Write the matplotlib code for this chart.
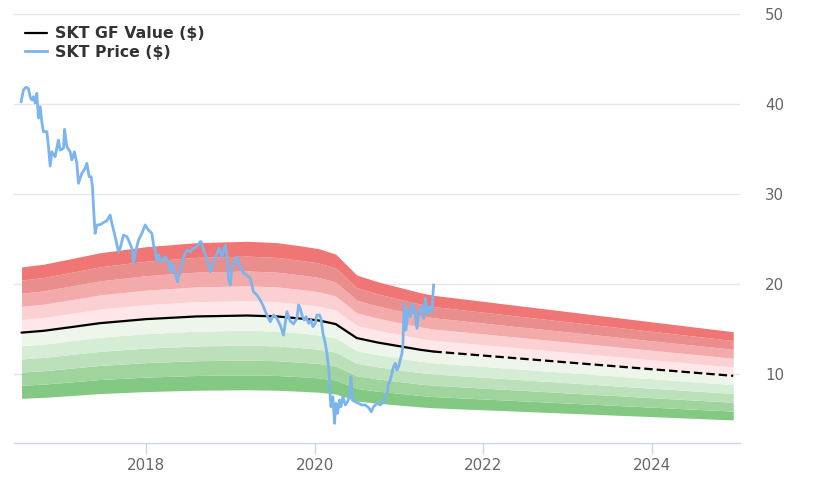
import numpy as np
import matplotlib.pyplot as plt

# =====================================================================
# DATA (for SKT)
# =====================================================================

# GF Value ($) - solid up to the last price date, projected (dashed) after
gf_years = [2016.52, 2016.78, 2017.1, 2017.45, 2018.0, 2018.6, 2019.2, 2019.55,
            2019.85, 2020.05, 2020.25, 2020.5, 2020.75, 2021.0, 2021.25, 2021.41,
            2024.97]
gf_values = [14.6, 14.8, 15.2, 15.65, 16.1, 16.4, 16.5, 16.4,
             16.15, 15.95, 15.55, 14.0, 13.5, 13.1, 12.7, 12.5,
             9.8]
last_price_year = 2021.41

# SKT price ($)
price_years = [
    2016.515, 2016.543, 2016.571, 2016.602, 2016.622, 2016.643, 2016.662, 2016.682,
    2016.702, 2016.721, 2016.741, 2016.761, 2016.780, 2016.821, 2016.840, 2016.860,
    2016.880, 2016.919, 2016.958, 2016.979, 2017.018, 2017.030, 2017.058, 2017.097,
    2017.118, 2017.148, 2017.177, 2017.196, 2017.236, 2017.276, 2017.296, 2017.323,
    2017.347, 2017.362, 2017.379, 2017.394, 2017.414, 2017.454, 2017.493, 2017.533,
    2017.572, 2017.593, 2017.612, 2017.632, 2017.671, 2017.691, 2017.730, 2017.771,
    2017.790, 2017.830, 2017.849, 2017.869, 2017.909, 2017.949, 2017.988, 2018.027,
    2018.068, 2018.087, 2018.107, 2018.127, 2018.146, 2018.186, 2018.226, 2018.265,
    2018.285, 2018.305, 2018.344, 2018.372, 2018.404, 2018.443, 2018.483, 2018.523,
    2018.562, 2018.602, 2018.641, 2018.653, 2018.681, 2018.721, 2018.760, 2018.799,
    2018.840, 2018.867, 2018.899, 2018.938, 2018.958, 2018.977, 2018.998, 2019.018,
    2019.057, 2019.077, 2019.116, 2019.156, 2019.196, 2019.235, 2019.274, 2019.315,
    2019.354, 2019.393, 2019.433, 2019.473, 2019.512, 2019.552, 2019.591, 2019.631,
    2019.671, 2019.710, 2019.749, 2019.790, 2019.809, 2019.829, 2019.849, 2019.876,
    2019.900, 2019.928, 2019.956, 2019.980, 2020.007, 2020.027, 2020.058, 2020.075,
    2020.099, 2020.126, 2020.146, 2020.165, 2020.177, 2020.185, 2020.194, 2020.217,
    2020.236, 2020.253, 2020.272, 2020.296, 2020.312, 2020.336, 2020.363, 2020.391,
    2020.414, 2020.431, 2020.447, 2020.482, 2020.521, 2020.562, 2020.601, 2020.640,
    2020.672, 2020.700, 2020.740, 2020.779, 2020.818, 2020.838, 2020.859, 2020.878,
    2020.898, 2020.918, 2020.937, 2020.957, 2020.977, 2020.996, 2021.017, 2021.037,
    2021.049, 2021.056, 2021.068, 2021.084, 2021.108, 2021.135, 2021.163, 2021.186,
    2021.215, 2021.234, 2021.266, 2021.293, 2021.314, 2021.346, 2021.373, 2021.393,
    2021.412,
]
price_values = [
    40.26, 41.56, 41.86, 41.74, 40.81, 40.44, 40.81, 40.11,
    41.19, 38.44, 39.70, 38.03, 36.92, 36.92, 35.26, 33.11,
    34.70, 34.14, 36.00, 34.89, 35.08, 37.19, 35.26, 34.70,
    33.78, 34.70, 33.41, 31.19, 32.30, 32.86, 33.41, 31.92,
    31.92, 30.81, 27.86, 25.63, 26.56, 26.60, 26.83, 27.03,
    27.67, 26.74, 26.00, 25.26, 23.59, 23.97, 25.44, 25.26,
    24.89, 23.97, 22.30, 23.41, 24.89, 25.63, 26.56, 26.00,
    25.63, 24.33, 23.78, 22.48, 23.22, 22.48, 23.03, 22.48,
    21.37, 22.30, 21.19, 20.26, 21.56, 23.03, 23.78, 23.59,
    23.97, 24.14, 24.70, 24.70, 23.78, 22.86, 21.37, 22.30,
    23.41, 23.97, 23.03, 24.33, 23.22, 20.63, 19.89, 21.74,
    22.48, 23.03, 21.92, 21.19, 21.00, 20.63, 19.14, 18.78,
    18.22, 17.48, 16.56, 15.81, 16.56, 16.19, 15.44, 14.33,
    16.92, 15.89, 15.56, 16.19, 17.67, 17.30, 16.56, 16.00,
    16.37, 15.63, 16.00, 15.26, 15.63, 16.56, 16.56, 16.19,
    14.52, 13.41, 12.30, 10.81, 9.33, 7.48, 6.37, 7.48,
    4.52, 6.74, 5.63, 7.11, 6.37, 7.48, 6.56, 6.92,
    7.48, 9.70, 7.11, 6.92, 6.74, 6.56, 6.56, 6.28,
    5.81, 6.37, 6.74, 6.56, 6.92, 7.48, 7.86, 8.97,
    9.33, 10.08, 10.81, 11.19, 10.44, 10.81, 11.56, 12.30,
    13.41, 15.63, 17.86, 14.89, 17.11, 16.37, 17.86, 17.11,
    15.08, 16.74, 17.48, 16.19, 18.41, 16.74, 17.48, 16.92,
    19.89,
]

# band multipliers around the GF Value and their colours (bottom -> top)
band_edges = [0.5, 0.6, 0.7, 0.8, 0.9, 1.0, 1.1, 1.2, 1.3, 1.4, 1.5]
band_colors = ['#83c983', '#9fd49d', '#bce0ba', '#d6edd5', '#eef6ec',
               '#ffe6e8', '#fbd0d3', '#f2aaaa', '#ea8d8d', '#f07575']

y_ticks = [10, 20, 30, 40, 50]
x_ticks = [2018, 2020, 2022, 2024]

# =====================================================================
# PLOT
# =====================================================================

fig = plt.figure(figsize=(8.2, 4.92), dpi=100)
ax = fig.add_axes([0.017, 0.1002, 0.8854, 0.8713])

gf_x = np.array(gf_years)
gf_y = np.array(gf_values)

for lo, hi, col in zip(band_edges[:-1], band_edges[1:], band_colors):
    ax.fill_between(gf_x, gf_y * lo, gf_y * hi, color=col, linewidth=0, zorder=1)

# GF value: solid for history, dashed for projection
hist = gf_x <= last_price_year
ax.plot(gf_x[hist], gf_y[hist], color='black', linewidth=1.6, zorder=3,
        solid_capstyle='round', label='SKT GF Value ($)')
proj = gf_x >= last_price_year
ax.plot(gf_x[proj], gf_y[proj], color='black', linewidth=1.6, zorder=3,
        linestyle=(0, (3.8, 1.8)))

ax.plot(price_years, price_values, color='#7cb5ec', linewidth=2.0, zorder=4,
        label='SKT Price ($)')

ax.set_xlim(2016.43, 2025.05)
ax.set_ylim(2.37, 50)

ax.yaxis.tick_right()
ax.set_yticks(y_ticks)
ax.set_xticks(x_ticks)
ax.set_xticklabels([str(t) for t in x_ticks])
ax.tick_params(axis='y', length=0, pad=18, labelsize=10.8, labelcolor='#666666')
ax.tick_params(axis='x', length=8, width=1, color='#ccd6eb', pad=3,
               labelsize=10.8, labelcolor='#666666')
for lab in ax.get_yticklabels():
    lab.set_horizontalalignment('left')

ax.grid(axis='y', color='#e6e6e6', linewidth=1, zorder=0)
ax.set_axisbelow(True)
for side in ['top', 'left', 'right']:
    ax.spines[side].set_visible(False)
ax.spines['bottom'].set_color('#ccd6eb')
ax.spines['bottom'].set_linewidth(1)

leg = ax.legend(loc='upper left', bbox_to_anchor=(0.004, 0.99), frameon=False,
                borderpad=0, handlelength=1.4, handletextpad=0.5,
                labelspacing=0.22, prop={'weight': 'bold', 'size': 11.3})
for txt in leg.get_texts():
    txt.set_color('#333333')

plt.savefig('out.png', dpi=100)
